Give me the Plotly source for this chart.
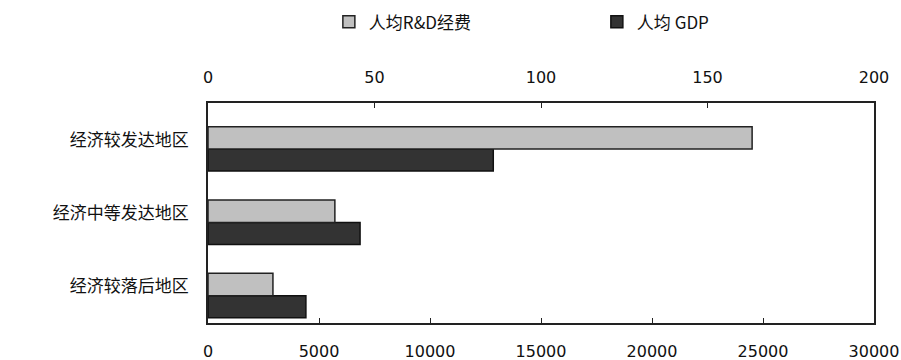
import plotly.graph_objects as go

regions = ["经济较发达地区", "经济中等发达地区", "经济较落后地区"]
rd_per_capita = [163.4, 38.1, 19.5]      # 人均R&D经费 (top axis, 0-200)
gdp_per_capita = [12850, 6850, 4410]     # 人均 GDP (bottom axis, 0-30000)
top_ticks = [0, 50, 100, 150, 200]
bottom_ticks = [0, 5000, 10000, 15000, 20000, 25000, 30000]

num_font = dict(family="DejaVu Sans", size=16, color="#111111")
cjk_font = dict(family="Noto Sans CJK SC", size=17, color="#111111")

fig = go.Figure()
fig.add_trace(go.Bar(
    y=regions, x=rd_per_capita, orientation="h", name="人均R&D经费",
    xaxis="x2", yaxis="y",
    marker=dict(color="#c0c0c0", line=dict(color="#222222", width=1.5)),
    width=0.305, offset=-0.177,
))
fig.add_trace(go.Bar(
    y=regions, x=gdp_per_capita, orientation="h", name="人均 GDP",
    xaxis="x", yaxis="y",
    marker=dict(color="#333333", line=dict(color="#111111", width=1.5)),
    width=0.30, offset=0.128,
))

fig.update_layout(
    width=901, height=360,
    margin=dict(l=208, r=27, t=103, b=37),
    paper_bgcolor="white", plot_bgcolor="white",
    showlegend=True,
    legend=dict(orientation="h", x=0.365, xanchor="left", xref="container",
                y=0.938, yanchor="middle", yref="container",
                font=cjk_font, entrywidth=223, entrywidthmode="pixels",
                traceorder="normal", itemwidth=30),
    xaxis=dict(range=[0, 30000], tickvals=bottom_ticks, ticktext=[str(v) for v in bottom_ticks],
               side="bottom", showline=True, linecolor="#222222", linewidth=1.5,
               ticks="inside", ticklen=5, tickcolor="#222222", showgrid=False, zeroline=False,
               tickfont=num_font, ticklabelstandoff=13, automargin=False),
    xaxis2=dict(range=[0, 200], tickvals=top_ticks, ticktext=[str(v) for v in top_ticks],
                side="top", overlaying="x", showline=True, linecolor="#222222", linewidth=1.5,
                ticks="inside", ticklen=5, tickcolor="#222222", showgrid=False, zeroline=False,
                tickfont=num_font, ticklabelstandoff=12, automargin=False),
    yaxis=dict(autorange="reversed", showline=True, mirror=True, linecolor="#222222",
               linewidth=1.5, ticks="", showgrid=False, tickfont=cjk_font,
               ticklabelstandoff=14, automargin=False),
)

fig.write_html("out.html")
